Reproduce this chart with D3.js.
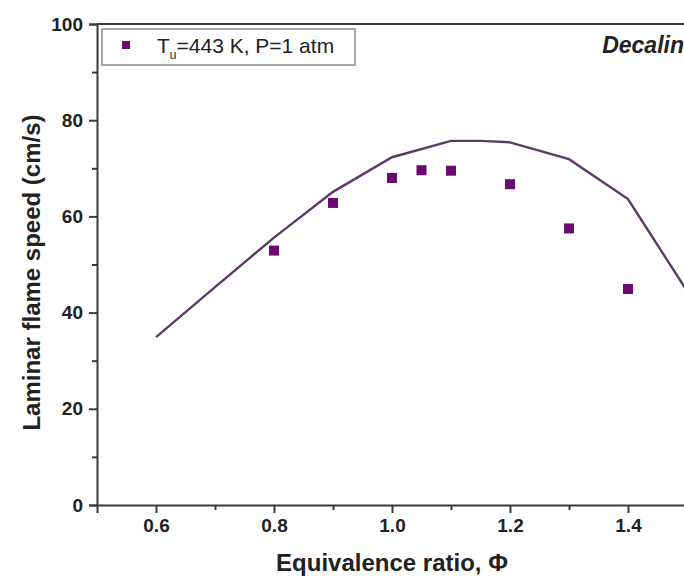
<!DOCTYPE html>
<html>
<head>
<meta charset="utf-8">
<script src="https://cdn.jsdelivr.net/npm/d3@7"></script>
<style>
  body { margin: 0; background: #fff; }
  svg { font-family: Arial, "Liberation Sans", sans-serif; }
</style>
</head>
<body>
<svg id="chart" width="684" height="580"></svg>
<script>
// model curve (line)
var modelPhi = [0.6, 0.7, 0.8, 0.9, 1.0, 1.1, 1.15, 1.2, 1.3, 1.4, 1.5];
var modelSpeed = [34.9, 45.3, 55.6, 65.1, 72.3, 75.7, 75.7, 75.4, 71.9, 63.6, 44.5];

// experiment (square markers)
var expPhi = [0.8, 0.9, 1.0, 1.05, 1.1, 1.2, 1.3, 1.4];
var expSpeed = [52.9, 62.8, 68.0, 69.6, 69.5, 66.7, 57.5, 44.9];

var xMajor = [0.6, 0.8, 1.0, 1.2, 1.4];
var xMinor = [0.7, 0.9, 1.1, 1.3];
var yMajor = [0, 20, 40, 60, 80, 100];
var yMinor = [10, 30, 50, 70, 90];

var svg = d3.select('#chart');
// note: "top" is a reserved window global, so use plotTop etc.
var plotLeft = 97, plotRight = 687, plotTop = 24, plotBottom = 505;

var x = d3.scaleLinear().domain([0.5, 1.5]).range([plotLeft, plotRight]);
var y = d3.scaleLinear().domain([0, 100]).range([plotBottom, plotTop]);

var axisColor = '#3a3a3a';

// top frame line
svg.append('line')
    .attr('x1', plotLeft).attr('x2', plotRight)
    .attr('y1', plotTop).attr('y2', plotTop)
    .style('stroke', axisColor).style('stroke-width', 2);

// x axis
svg.append('g')
    .attr('transform', 'translate(0,' + plotBottom + ')')
    .call(d3.axisBottom(x).tickValues(xMajor).tickSize(8).tickPadding(6)
        .tickFormat(d3.format('.1f')));
svg.append('g')
    .attr('transform', 'translate(0,' + plotBottom + ')')
    .call(d3.axisBottom(x).tickValues(xMinor).tickSize(5).tickFormat(''))
    .select('.domain').remove();

// y axis
svg.append('g')
    .attr('transform', 'translate(' + plotLeft + ',0)')
    .call(d3.axisLeft(y).tickValues(yMajor).tickSize(8).tickPadding(6));
svg.append('g')
    .attr('transform', 'translate(' + plotLeft + ',0)')
    .call(d3.axisLeft(y).tickValues(yMinor).tickSize(5).tickFormat(''))
    .select('.domain').remove();

svg.selectAll('.domain').style('stroke', axisColor).style('stroke-width', 2);
svg.selectAll('.tick line').style('stroke', axisColor).style('stroke-width', 2);
svg.selectAll('.tick text')
    .style('font-size', '19px')
    .style('font-weight', 'bold')
    .style('fill', '#222');

// axis titles
svg.append('text')
    .attr('x', x(1.0))
    .attr('y', 571)
    .attr('text-anchor', 'middle')
    .style('font-size', '24px')
    .style('font-weight', 'bold')
    .style('fill', '#222')
    .text('Equivalence ratio, Φ');

svg.append('text')
    .attr('transform', 'translate(40,' + (y(50) + 8) + ') rotate(-90)')
    .attr('text-anchor', 'middle')
    .style('font-size', '24px')
    .style('font-weight', 'bold')
    .style('fill', '#222')
    .text('Laminar flame speed (cm/s)');

// model line
var line = d3.line()
    .x(function(d, i) { return x(modelPhi[i]); })
    .y(function(d) { return y(d); });

svg.append('path')
    .datum(modelSpeed)
    .attr('d', line)
    .style('fill', 'none')
    .style('stroke', '#5e3a69')
    .style('stroke-width', 2.4);

// experiment markers
var sz = 10;
svg.append('g').selectAll('rect')
    .data(expSpeed)
    .enter()
    .append('rect')
    .attr('x', function(d, i) { return x(expPhi[i]) - sz / 2; })
    .attr('y', function(d) { return y(d) - sz / 2; })
    .attr('width', sz).attr('height', sz)
    .style('fill', '#6a0b72');

// legend
var lg = svg.append('g');
lg.append('rect')
    .attr('x', 102).attr('y', 29)
    .attr('width', 253).attr('height', 36)
    .style('fill', '#fff')
    .style('stroke', '#8a8a8a')
    .style('stroke-width', 1.5);
lg.append('rect')
    .attr('x', 122).attr('y', 41)
    .attr('width', 8).attr('height', 8)
    .style('fill', '#6a0b72');
var lt = lg.append('text')
    .attr('x', 157).attr('y', 53)
    .style('font-size', '21px')
    .style('fill', '#222');
lt.append('tspan').text('T');
lt.append('tspan').attr('dy', 6).style('font-size', '12px').text('u');
lt.append('tspan').attr('dy', -6).text('=443 K, P=1 atm');

// species label
svg.append('text')
    .attr('x', 684).attr('y', 53)
    .attr('text-anchor', 'end')
    .style('font-size', '23px')
    .style('font-weight', 'bold')
    .style('font-style', 'italic')
    .style('fill', '#222')
    .text('Decalin');
</script>
</body>
</html>
